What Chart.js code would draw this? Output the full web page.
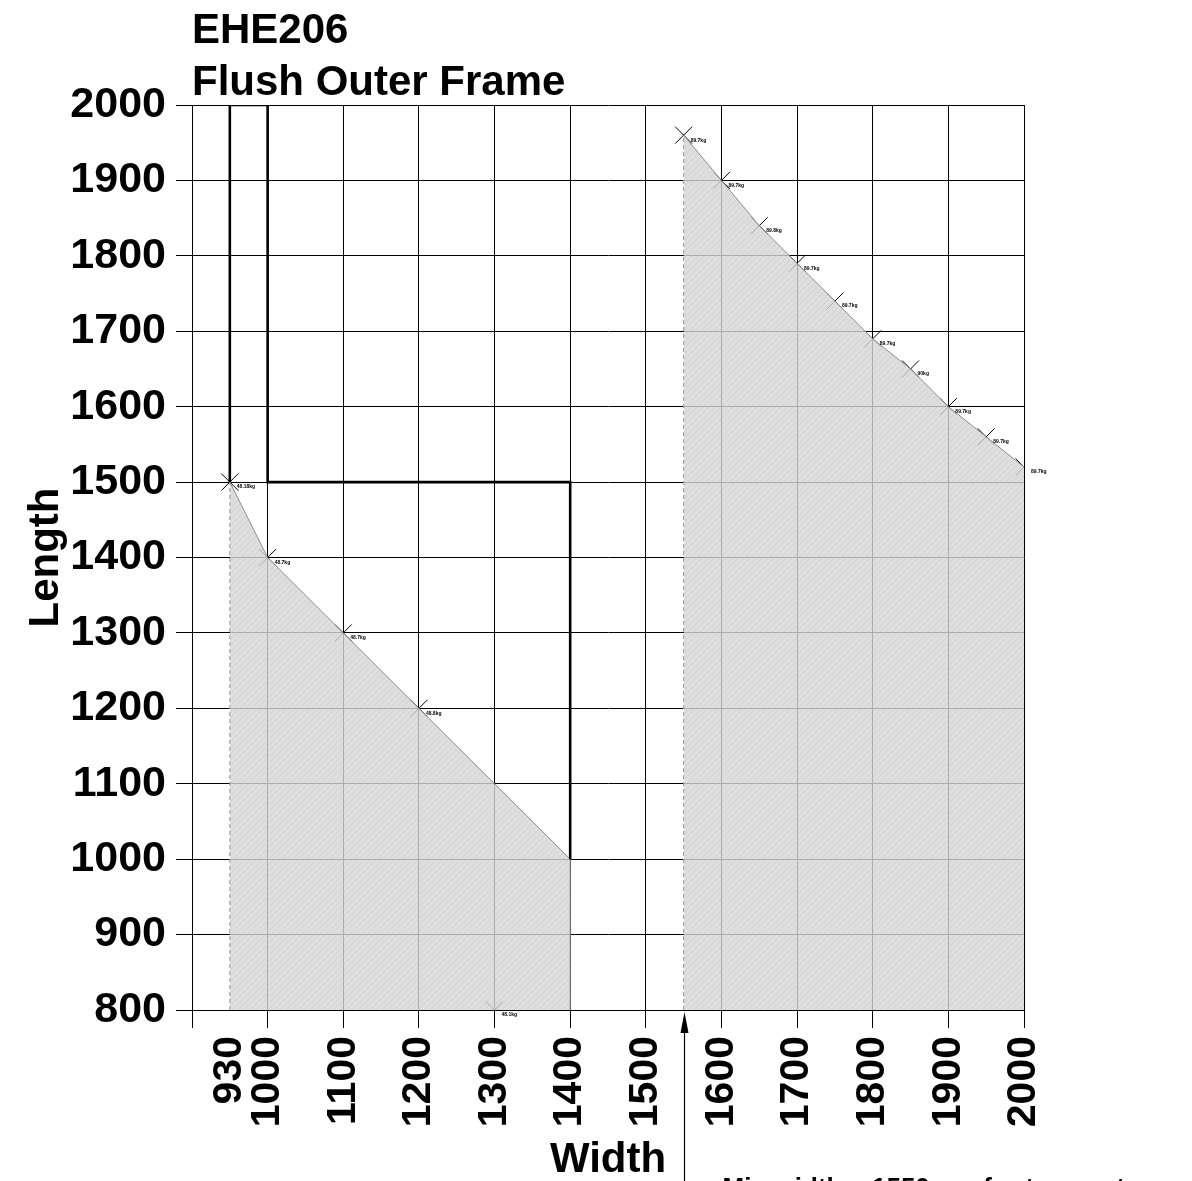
<!DOCTYPE html>
<html lang="en">
<head>
<meta charset="UTF-8">
<title>EHE206 Flush Outer Frame</title>
<script src="https://cdn.jsdelivr.net/npm/chart.js"></script>
<style>
  html, body { margin: 0; padding: 0; background: #fff; }
  #wrap { width: 1192px; height: 1181px; position: relative; }
</style>
</head>
<body>
<div id="wrap"><canvas id="frameChart"></canvas></div>
<script>
// single motor zone (outline of the shaded area)
const singleWidth  = [950, 1000, 1100, 1200, 1300, 1400];
const singleLength = [1500, 1400, 1300, 1200, 1100, 1000];
// weight markers, single motor
const singleMarkWidth  = [950, 1000, 1100, 1200, 1300];
const singleMarkLength = [1500, 1400, 1300, 1200, 800];
const singleMarkText   = ["48.18kg", "48.7kg", "48.7kg", "48.8kg", "48.1kg"];
// two motor zone + markers
const twinWidth    = [1550, 1600, 1650, 1700, 1750, 1800, 1850, 1900, 1950, 2000];
const twinLength   = [1960, 1900, 1840, 1790, 1740, 1690, 1650, 1600, 1560, 1520];
const twinMarkText = ["89.7kg", "89.7kg", "89.8kg", "89.7kg", "89.7kg", "89.7kg", "90kg", "89.7kg", "89.7kg", "89.7kg"];
// heavy limit line
const limitWidth  = [950, 950, 1000, 1000, 1400, 1400];
const limitLength = [1500, 2000, 2000, 1500, 1500, 1000];
const minTwinWidth = 1550;
// axes
const xTicks      = [900, 950, 1000, 1100, 1200, 1300, 1400, 1500, 1600, 1700, 1800, 1900, 2000];
const xTickLabels = ["", "930", "1000", "1100", "1200", "1300", "1400", "1500", "1600", "1700", "1800", "1900", "2000"];
const yTicks      = [800, 900, 1000, 1100, 1200, 1300, 1400, 1500, 1600, 1700, 1800, 1900, 2000];

const FONT = "'Liberation Sans', Arial, sans-serif";
const pts = (ws, ls) => ws.map((w, i) => ({ x: w, y: ls[i] }));
const yMin = yTicks[0];

function hatch() {
  const c = document.createElement("canvas");
  c.width = c.height = 6;
  const g = c.getContext("2d");
  g.fillStyle = "rgba(214,214,214,0.8)";
  g.fillRect(0, 0, 6, 6);
  g.strokeStyle = "rgba(190,190,190,0.35)";
  g.lineWidth = 1;
  g.beginPath(); g.moveTo(0, 6); g.lineTo(6, 0); g.stroke();
  return g.createPattern(c, "repeat");
}

const annotate = {
  id: "annotate",
  afterDatasetsDraw(chart) {
    const ctx = chart.ctx;
    const xs = chart.scales.x, ys = chart.scales.y;
    ctx.save();
    ctx.fillStyle = "#000";
    ctx.font = "bold 5px " + FONT;
    ctx.textBaseline = "middle";
    [[singleMarkWidth, singleMarkLength, singleMarkText], [twinWidth, twinLength, twinMarkText]].forEach(([ws, ls, ts]) => {
      ws.forEach((w, i) => ctx.fillText(ts[i], xs.getPixelForValue(w) + 7, ys.getPixelForValue(ls[i]) + 5));
    });
    // arrow for the two motor minimum
    const ax = Math.round(xs.getPixelForValue(minTwinWidth)) + 0.5;
    const tip = ys.bottom + 2;
    ctx.strokeStyle = "#000";
    ctx.lineWidth = 1.2;
    ctx.beginPath(); ctx.moveTo(ax, chart.height); ctx.lineTo(ax, tip + 12); ctx.stroke();
    ctx.beginPath(); ctx.moveTo(ax, tip); ctx.lineTo(ax - 4, tip + 21); ctx.lineTo(ax + 4, tip + 21); ctx.closePath(); ctx.fill();
    ctx.font = "bold 26px " + FONT;
    ctx.textBaseline = "alphabetic";
    ctx.fillText("Min width = 1550mm for two motors", ax + 38, 1196);
    ctx.restore();
  }
};

new Chart(document.getElementById("frameChart"), {
  type: "scatter",
  data: {
    datasets: [
      { // heavy limit
        data: pts(limitWidth, limitLength), showLine: true, borderColor: "#000", borderWidth: 2.6,
        pointRadius: 0, fill: false, order: 0
      },
      { // dashed left edges of the zones
        data: [{ x: singleWidth[0], y: yMin }, { x: singleWidth[0], y: singleLength[0] }], showLine: true,
        borderColor: "#9a9a9a", borderWidth: 1, borderDash: [4, 3], pointRadius: 0, order: 0
      },
      {
        data: [{ x: twinWidth[0], y: yMin }, { x: twinWidth[0], y: twinLength[0] }], showLine: true,
        borderColor: "#9a9a9a", borderWidth: 1, borderDash: [4, 3], pointRadius: 0, order: 0
      },
      {
        data: [{ x: singleWidth[singleWidth.length - 1], y: yMin }, { x: singleWidth[singleWidth.length - 1], y: singleLength[singleLength.length - 1] }],
        showLine: true, borderColor: "#9a9a9a", borderWidth: 1, pointRadius: 0, order: 0
      },
      { // shaded zones
        data: pts(singleWidth, singleLength), showLine: true, fill: "start", backgroundColor: hatch(),
        borderColor: "#8c8c8c", borderWidth: 1, pointRadius: 0, order: 1
      },
      {
        data: pts(twinWidth, twinLength), showLine: true, fill: "start", backgroundColor: hatch(),
        borderColor: "#8c8c8c", borderWidth: 1, pointRadius: 0, order: 1
      },
      { // weight markers
        data: pts(singleMarkWidth, singleMarkLength), pointStyle: "crossRot", pointRadius: 12,
        borderColor: "#000", pointBorderWidth: 1, order: 2
      },
      {
        data: pts(twinWidth, twinLength), pointStyle: "crossRot", pointRadius: 12,
        borderColor: "#000", pointBorderWidth: 1, order: 2
      }
    ]
  },
  options: {
    responsive: true,
    maintainAspectRatio: false,
    animation: false,
    layout: { padding: { left: 0, right: 168, top: 0, bottom: 0 } },
    plugins: {
      legend: { display: false },
      tooltip: { enabled: false },
      title: {
        display: true, text: ["EHE206", "Flush Outer Frame"], align: "start", fullSize: false, color: "#000",
        font: { family: FONT, size: 42, weight: "bold", lineHeight: 1.25 }, padding: { top: 5, bottom: -5 }
      }
    },
    scales: {
      x: {
        type: "linear", min: 900, max: 2000,
        afterBuildTicks: s => { s.ticks = xTicks.map(v => ({ value: v })); },
        afterFit: s => { s.height = 171; },
        grid: { color: c => (c.tick && c.tick.value === 950) ? "rgba(0,0,0,0)" : "#000", lineWidth: 1, tickLength: 18 },
        border: { color: "#000" },
        ticks: {
          autoSkip: false, maxRotation: 90, minRotation: 90, padding: 8, color: "#000",
          font: { family: FONT, size: 41, weight: "bold" },
          callback: v => xTickLabels[xTicks.indexOf(v)]
        },
        title: { display: true, text: "Width", color: "#000", font: { family: FONT, size: 42, weight: "bold", lineHeight: 1 }, padding: { top: 0, bottom: 0 } }
      },
      y: {
        type: "linear", min: 800, max: 2000,
        afterBuildTicks: s => { s.ticks = yTicks.map(v => ({ value: v })); },
        afterFit: s => { s.width = 192; },
        grid: { color: "#000", lineWidth: 1, tickLength: 16 },
        border: { color: "#000" },
        ticks: { padding: 10, color: "#000", font: { family: FONT, size: 43, weight: "bold" }, callback: v => String(v) },
        title: { display: true, text: "Length", color: "#000", font: { family: FONT, size: 42, weight: "bold", lineHeight: 1.2 }, padding: { top: 21, bottom: 0 } }
      }
    }
  },
  plugins: [annotate]
});
</script>
</body>
</html>
